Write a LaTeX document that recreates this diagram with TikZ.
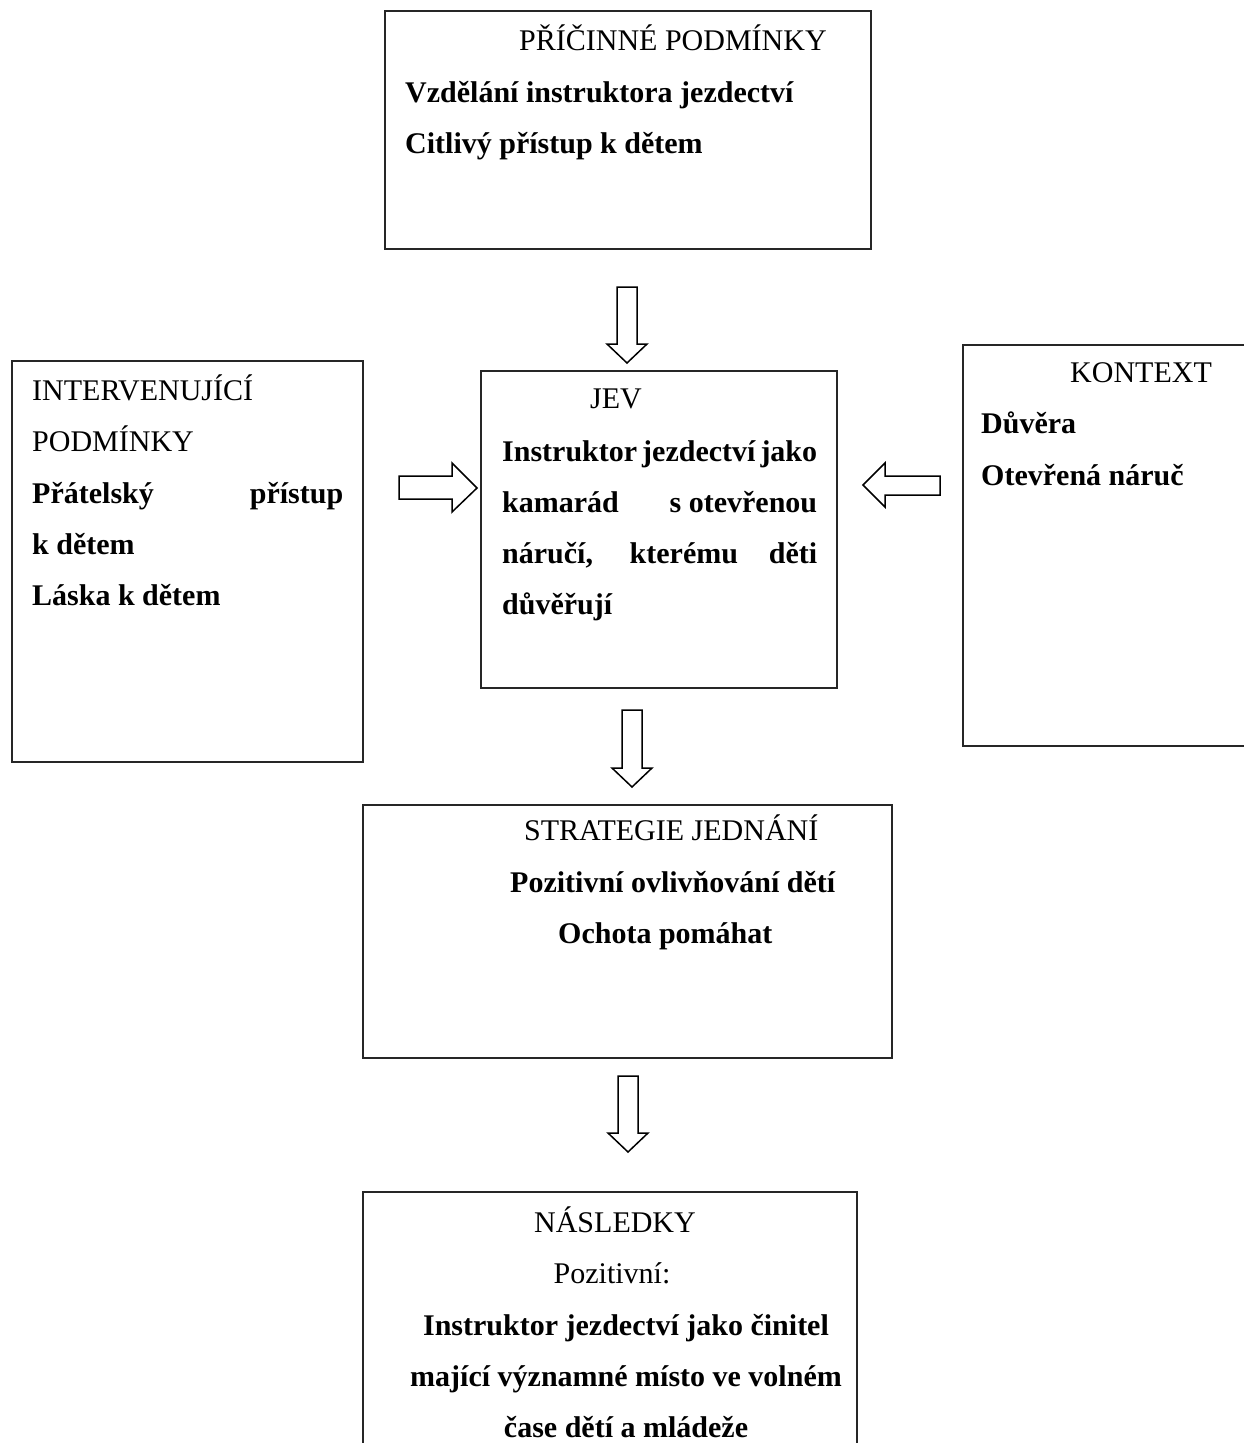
\documentclass[tikz,border=0pt]{standalone}
\usepackage{fontspec}
\setmainfont{Liberation Serif}
\tikzset{
  x=1pt, y=-1pt,
  boxnode/.style={draw=black!85, line width=1.3pt, rectangle, inner sep=0pt, fill=none},
  txt/.style={inner sep=0pt, anchor=base west, font=\fontsize{30}{36}\selectfont},
  txtc/.style={inner sep=0pt, anchor=base, font=\fontsize{30}{36}\selectfont},
  blockarrow/.style={draw=black, line width=1.5pt, fill=white, line join=miter}
}
\newcommand{\downblock}[4]{% center x, top y, head base y, tip y
  \draw[blockarrow] (#1-10,#2) -- (#1+10,#2) -- (#1+10,#3) -- (#1+20,#3) -- (#1,#4) -- (#1-20,#3) -- (#1-10,#3) -- cycle;}
\begin{document}
\begin{tikzpicture}
\useasboundingbox (0,0) rectangle (1244,1443);
\fill[white] (0,0) rectangle (1244,1443);
\clip (0,0) rectangle (1244,1443);

% boxes
\node[boxnode, minimum width=486pt, minimum height=238pt] (pric) at (628,130) {};
\node[boxnode, minimum width=356pt, minimum height=317pt] (jev) at (659,529.5) {};
\node[boxnode, minimum width=351pt, minimum height=401pt] (interv) at (187.5,561.5) {};
\node[boxnode, minimum width=300pt, minimum height=401pt] (kontext) at (1113,545.5) {};
\node[boxnode, minimum width=529pt, minimum height=253pt] (strat) at (627.5,931.5) {};
\node[boxnode, minimum width=494pt, minimum height=268pt] (nasl) at (610,1326) {};

% texts: PŘÍČINNÉ PODMÍNKY
\node[txt] (p0) at (519,50) {PŘÍČINNÉ PODMÍNKY};
\node[txt] (p1) at (405,102) {\textbf{Vzdělání instruktora jezdectví}};
\node[txt] (p2) at (405,153) {\textbf{Citlivý přístup k dětem}};

% JEV
\node[txt] (j0) at (590,408) {JEV};
\node[txt] (j1) at (502,461) {\bfseries\makebox[315pt][s]{Instruktor jezdectví jako}};
\node[txt] (j2) at (502,512) {\bfseries\makebox[315pt][s]{kamarád \mbox{s otevřenou}}};
\node[txt] (j3) at (502,563) {\bfseries\makebox[315pt][s]{náručí, kterému děti}};
\node[txt] (j4) at (502,614) {\bfseries důvěřují};

% INTERVENUJÍCÍ PODMÍNKY
\node[txt] (i0) at (32,400) {INTERVENUJÍCÍ};
\node[txt] (i1) at (32,451) {PODMÍNKY};
\node[txt] (i2) at (32,503) {\bfseries\makebox[311pt][s]{Přátelský přístup}};
\node[txt] (i3) at (32,554) {\bfseries k dětem};
\node[txt] (i4) at (32,605) {\bfseries Láska k dětem};

% KONTEXT
\node[txt] (k0) at (1070,382) {KONTEXT};
\node[txt] (k1) at (981,433) {\bfseries Důvěra};
\node[txt] (k2) at (981,485) {\bfseries Otevřená náruč};

% STRATEGIE JEDNÁNÍ
\node[txt] (s0) at (524,840) {STRATEGIE JEDNÁNÍ};
\node[txt] (s1) at (510,892) {\bfseries Pozitivní ovlivňování dětí};
\node[txt] (s2) at (558,943) {\bfseries Ochota pomáhat};

% NÁSLEDKY
\node[txtc] (n0) at (615,1232) {NÁSLEDKY};
\node[txtc] (n1) at (612,1283) {Pozitivní:};
\node[txtc] (n2) at (626,1335) {\bfseries Instruktor jezdectví jako činitel};
\node[txtc] (n3) at (626,1386) {\bfseries mající významné místo ve volném};
\node[txtc] (n4) at (626,1437) {\bfseries čase dětí a mládeže};

% block arrows
\downblock{627}{287}{344}{363}
\downblock{632}{710}{768}{787}
\downblock{628}{1076}{1133}{1152}
% right-pointing arrow (intervening -> jev)
\draw[blockarrow] (399,476) -- (452,476) -- (452,463) -- (477,488) -- (452,512) -- (452,499) -- (399,499) -- cycle;
% left-pointing arrow (kontext -> jev)
\draw[blockarrow] (940,476) -- (885,476) -- (885,463) -- (863,485) -- (885,507) -- (885,495) -- (940,495) -- cycle;
\end{tikzpicture}
\end{document}
